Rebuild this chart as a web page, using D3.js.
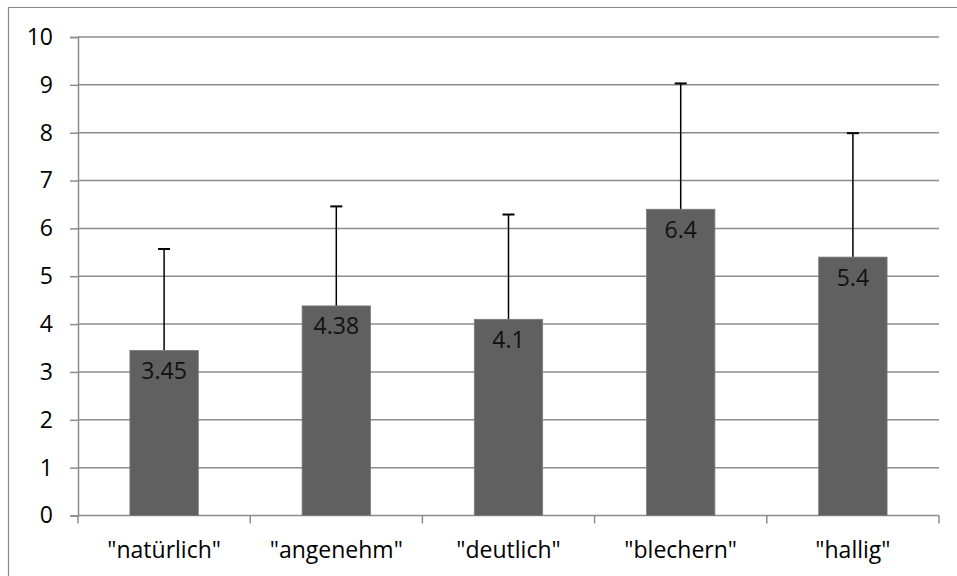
<!DOCTYPE html>
<html>
<head>
<meta charset="utf-8">
<script src="https://cdn.jsdelivr.net/npm/d3@7/dist/d3.min.js"></script>
<style>
  html, body { margin: 0; padding: 0; background: #fff; }
  svg { display: block; }
  text { font-family: "Open Sans", "Noto Sans", sans-serif; }
</style>
</head>
<body>
<svg id="chart" width="957" height="576"></svg>
<script>
const categories = ['"natürlich"', '"angenehm"', '"deutlich"', '"blechern"', '"hallig"'];
const means = [3.45, 4.38, 4.1, 6.4, 5.4];
const errors = [2.12, 2.08, 2.19, 2.63, 2.59];
const yTicks = [0, 1, 2, 3, 4, 5, 6, 7, 8, 9, 10];

const svg = d3.select("#chart");
const W = 957, H = 576;
const m = { left: 78, right: 939, top: 37, bottom: 515.5 };
const FS = 23;

// outer frame
svg.append("path")
  .attr("d", `M8.5,${H + 2} L8.5,7.5 L${W + 2},7.5`)
  .attr("fill", "none").attr("stroke", "#8a8a8a").attr("stroke-width", 1.2);

const x = d3.scaleBand().domain(categories).range([m.left, m.right]).paddingInner(0).paddingOuter(0);
const y = d3.scaleLinear().domain([0, 10]).range([m.bottom, m.top]);

const gridColor = "#8c8c8c";

// gridlines
svg.append("g").selectAll("line").data(yTicks.filter(d => d > 0)).join("line")
  .attr("x1", m.left).attr("x2", m.right)
  .attr("y1", d => y(d)).attr("y2", d => y(d))
  .attr("stroke", gridColor).attr("stroke-width", 1.5);

// y axis
const yAxis = d3.axisLeft(y).tickValues(yTicks).tickSize(8).tickPadding(17).tickFormat(d3.format("d"));
const gy = svg.append("g").attr("transform", `translate(${m.left},0)`).call(yAxis);
gy.select(".domain").attr("stroke", gridColor).attr("stroke-width", 1.5);
gy.selectAll(".tick line").attr("stroke", gridColor).attr("stroke-width", 1.5);
gy.selectAll(".tick text").attr("font-size", FS).attr("fill", "#000")
  .attr("font-family", '"Open Sans", sans-serif');

// x axis
const xAxis = d3.axisBottom(x).tickSize(0).tickPadding(26);
const gx = svg.append("g").attr("transform", `translate(0,${m.bottom})`).call(xAxis);
gx.select(".domain").remove();
gx.selectAll(".tick text").attr("font-size", FS).attr("fill", "#000")
  .attr("font-family", '"Open Sans", sans-serif');
// category boundary ticks
const bounds = categories.map(c => x(c)).concat([x(categories[categories.length - 1]) + x.bandwidth()]);
svg.append("g").selectAll("line").data(bounds).join("line")
  .attr("x1", d => d).attr("x2", d => d)
  .attr("y1", m.bottom).attr("y2", m.bottom + 8)
  .attr("stroke", gridColor).attr("stroke-width", 1.5);
svg.append("line").attr("x1", m.left).attr("x2", m.right)
  .attr("y1", m.bottom).attr("y2", m.bottom)
  .attr("stroke", gridColor).attr("stroke-width", 1.5);

// bars
const barW = x.bandwidth() * 0.397;
const data = categories.map((c, i) => ({ c, v: means[i], e: errors[i] }));

// error bars
const eg = svg.append("g");
eg.selectAll("line.v").data(data).join("line").attr("class", "v")
  .attr("x1", d => x(d.c) + x.bandwidth() / 2).attr("x2", d => x(d.c) + x.bandwidth() / 2)
  .attr("y1", d => y(d.v)).attr("y2", d => y(d.v + d.e))
  .attr("stroke", "#000").attr("stroke-width", 1.5);
eg.selectAll("line.cap").data(data).join("line").attr("class", "cap")
  .attr("x1", d => x(d.c) + x.bandwidth() / 2 - 6).attr("x2", d => x(d.c) + x.bandwidth() / 2 + 6)
  .attr("y1", d => y(d.v + d.e)).attr("y2", d => y(d.v + d.e))
  .attr("stroke", "#000").attr("stroke-width", 2);

svg.append("g").selectAll("rect").data(data).join("rect")
  .attr("x", d => x(d.c) + (x.bandwidth() - barW) / 2)
  .attr("width", barW)
  .attr("y", d => y(d.v))
  .attr("height", d => y(0) - y(d.v))
  .attr("fill", "#606060")
  .attr("stroke", "#7a7a7a").attr("stroke-width", 0.8);

// value labels
svg.append("g").selectAll("text").data(data).join("text")
  .attr("x", d => x(d.c) + x.bandwidth() / 2)
  .attr("y", d => y(d.v) + 28.5)
  .attr("text-anchor", "middle")
  .attr("font-size", FS)
  .attr("fill", "#111")
  .text(d => d.v);
</script>
</body>
</html>
